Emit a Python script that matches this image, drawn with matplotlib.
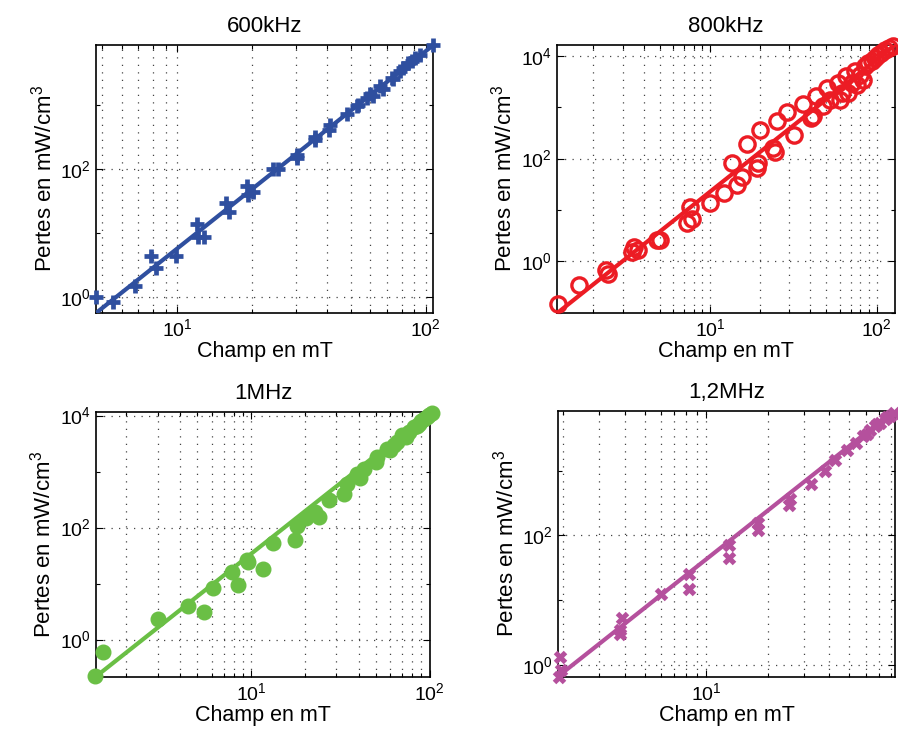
import matplotlib
matplotlib.use("Agg")
import matplotlib.pyplot as plt
import numpy as np
from matplotlib.ticker import LogLocator, LogFormatterSciNotation, NullFormatter

plt.rcParams['font.family'] = ['Liberation Sans', 'DejaVu Sans']
plt.rcParams['mathtext.fontset'] = 'custom'
plt.rcParams['mathtext.rm'] = 'Liberation Sans'
plt.rcParams['mathtext.it'] = 'Liberation Sans:italic'

# 600 kHz
b600_x = [4.71, 5.52, 6.76, 7.88, 8.26, 9.94, 12.1, 12.2, 12.9, 15.7, 16.2, 19.1, 19.3,
          20.2, 24.4, 25.6, 30.3, 30.3, 36.0, 36.0, 41.3, 40.7, 48.2, 52.9, 53.5, 57.9,
          59.7, 61.6, 65.6, 67.6, 73.0, 74.1, 78.8, 81.3, 85.1, 87.8, 90.6, 94.9, 106.6]
b600_y = [1.0, 0.83, 1.47, 4.4, 2.86, 4.36, 13.7, 8.75, 8.75, 29.9, 21.6, 53.5, 39.5,
          43.6, 100, 100, 168, 148, 289, 318, 497, 415, 731, 964, 1000, 1300,
          1470, 1380, 1990, 1800, 2690, 2530, 3420, 3860, 4620, 4900, 5530, 6020, 8650]

# 800 kHz
b800_x = [1.23, 1.64, 2.37, 2.45, 3.39, 3.52, 3.68, 4.79, 5.0, 7.24, 7.76, 7.59, 10.0,
          12.2, 13.5, 14.5, 15.6, 16.6, 19.1, 19.5, 20.0, 24.5, 24.0, 25.4, 29.1, 31.9,
          36.3, 40.7, 41.7, 43.3, 47.9, 50.6, 52.5, 58.9, 61.7, 66.0, 70.8, 74.1, 79.4,
          60.0, 67.6, 75.9, 83.2, 85.1, 89.1, 93.3, 97.7, 102, 107, 112, 119, 126]
b800_y = [0.144, 0.34, 0.687, 0.557, 1.52, 1.9, 1.64, 2.57, 2.65, 5.45, 6.8, 11.5, 13.8,
          21.7, 81, 30.5, 43.2, 190, 64.7, 81, 363, 137, 159, 553, 794, 290,
          1170, 616, 682, 1680, 1040, 2330, 1400, 2970, 1940, 4000, 2970, 5020, 4310,
          1400, 1890, 2750, 3440, 6280, 7300, 7870, 9130, 10600, 11400, 12900, 14300, 15900]

# 1 MHz
b1m_x = [1.34, 1.48, 3.0, 4.44, 5.47, 6.1, 7.82, 8.41, 9.58, 9.5, 11.7, 13.3, 17.5, 18.0,
         20.2, 24.0, 22.9, 27.3, 33.1, 34.5, 40.6, 39.3, 42.8, 49.8, 50.9, 58.0, 60.3,
         65.9, 70.3, 76.6, 81.7, 87.1, 92.9, 99.1, 103, 63.0, 73.3, 84.5, 89.8, 96.2]
b1m_y = [0.221, 0.602, 2.31, 3.99, 3.07, 8.5, 16.2, 9.33, 24.4, 26.9, 18.0, 53.2, 59.4, 107,
         149, 155, 190, 316, 405, 611, 781, 896, 1130, 1490, 1830, 2570, 2400,
         3390, 4450, 5110, 6280, 7200, 8840, 10100, 11200, 2950, 4160, 6460, 8040, 9460]

# 1,2 MHz
b12m_x = [1.905, 1.94, 1.95, 3.88, 3.8, 3.8, 6.01, 8.2, 8.2, 13.0, 13.0, 18.0, 18.0, 25.7,
          25.5, 32.4, 38.0, 42.6, 48.5, 53.9, 58.5, 63.1, 66.7, 70.6, 74.6, 79.0, 82.6,
          60.8, 68.6, 76.7]
b12m_y = [0.66, 1.32, 0.82, 5.33, 3.01, 3.4, 12.5, 25.5, 15.0, 71.8, 45.2, 155, 119, 369,
          291, 615, 988, 1450, 2060, 2680, 3400, 4210, 4850, 5460, 6150, 6920, 7800,
          3730, 5200, 6600]

# fits y = a * x^b  (log10 a, b)
fits = [(-2.336, 3.09), (-1.227, 2.58), (-0.987, 2.52), (-0.87, 2.50)]

titles = ['600kHz', '800kHz', '1MHz', '1,2MHz']
xlims = [(4.73, 107), (1.21, 129), (1.35, 100.5), (1.89, 83.6)]
ylims = [(0.562, 8710), (0.098, 16400), (0.215, 11600), (0.65, 8300)]

colors = ['#2f4f9f', '#ec1c24', '#6abf45', '#b5509d']

fig = plt.figure(figsize=(8.98, 7.47), dpi=100)
W, H = 898.0, 747.0
boxes = [(96, 433, 45, 313), (557, 895, 45, 313), (96, 430, 412, 677), (558, 895, 411, 677)]
data = [(b600_x, b600_y), (b800_x, b800_y), (b1m_x, b1m_y), (b12m_x, b12m_y)]
styles = [
    dict(marker='+', ms=10.5, mew=3.4, mfc='none', ls='none'),
    dict(marker='o', ms=11, mew=2.4, mfc='none', ls='none'),
    dict(marker='o', ms=10.5, mew=1, ls='none'),
    dict(marker='x', ms=7.5, mew=3.6, ls='none'),
]
grid_kw = dict(color='#444444', ls=(0, (1, 5)), lw=0.9)

for i in range(4):
    l, r, t, b = boxes[i]
    ax = fig.add_axes([l / W, 1 - b / H, (r - l) / W, (b - t) / H])
    c = colors[i]
    x, y = data[i]
    ax.plot(x, y, color=c, mec=c, mfc=styles[i].get('mfc', c), clip_on=False, zorder=3,
            **{k: v for k, v in styles[i].items() if k != 'mfc'})
    la, bb = fits[i]
    xx = np.array(xlims[i])
    ax.plot(xx, 10 ** la * xx ** bb, color=c, lw=3, zorder=3)
    ax.set_xscale('log')
    ax.set_yscale('log')
    ax.set_xlim(*xlims[i])
    ax.set_ylim(*ylims[i])

    ax.xaxis.set_major_locator(LogLocator(base=10, subs=(1.0,)))
    ax.xaxis.set_minor_locator(LogLocator(base=10, subs=np.arange(2, 10)))
    ax.xaxis.set_minor_formatter(NullFormatter())
    ax.yaxis.set_major_locator(LogLocator(base=100, subs=(1.0,)))
    ax.yaxis.set_major_formatter(LogFormatterSciNotation(base=10))
    ax.yaxis.set_minor_locator(LogLocator(base=10, subs=(1.0,)))
    ax.yaxis.set_minor_formatter(NullFormatter())

    ax.grid(True, which='major', axis='both', **grid_kw)
    ax.grid(True, which='minor', axis='x', **grid_kw)
    ax.set_axisbelow(True)
    ax.tick_params(which='both', direction='in', top=True, right=True,
                   labelsize=14, width=0.8)
    ax.tick_params(which='major', length=5)
    ax.tick_params(which='minor', length=3)
    for s in ax.spines.values():
        s.set_linewidth(1.2)
    ax.set_xlabel('Champ en mT', fontsize=15.5, labelpad=1)
    ax.set_ylabel('Pertes en mW/cm$^3$', fontsize=16, labelpad=3)
    ax.set_title(titles[i], fontsize=16, pad=9)

fig.savefig('out.png', dpi=100)
